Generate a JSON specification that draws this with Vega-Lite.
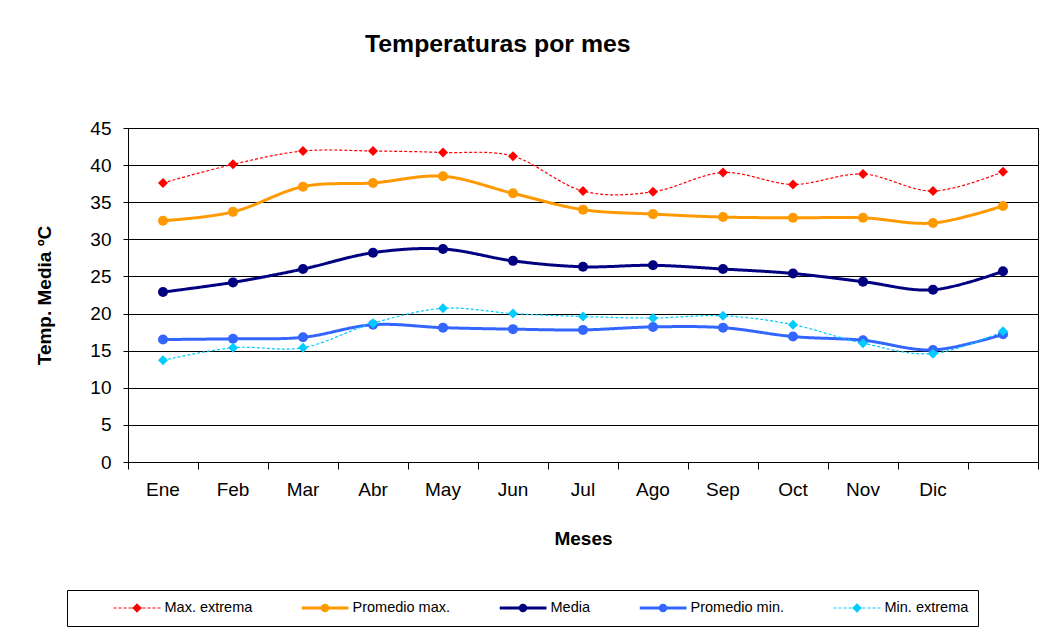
{
  "$schema": "https://vega.github.io/schema/vega-lite/v6.json",
  "width": 910,
  "height": 334,
  "autosize": {"type": "none"},
  "padding": {"left": 128, "top": 128, "right": 7, "bottom": 174},
  "background": "white",
  "title": {"text": "Temperaturas por mes", "anchor": "start", "frame": "group", "dx": 237, "offset": 62, "font": "Liberation Sans", "fontSize": 24.8, "fontWeight": "bold", "color": "#000"},
  "data": {"values": [
    {"mes": "Ene", "serie": "Max. extrema", "valor": 37.6},
    {"mes": "Feb", "serie": "Max. extrema", "valor": 40.1},
    {"mes": "Mar", "serie": "Max. extrema", "valor": 41.9},
    {"mes": "Abr", "serie": "Max. extrema", "valor": 41.9},
    {"mes": "May", "serie": "Max. extrema", "valor": 41.7},
    {"mes": "Jun", "serie": "Max. extrema", "valor": 41.2},
    {"mes": "Jul", "serie": "Max. extrema", "valor": 36.5},
    {"mes": "Ago", "serie": "Max. extrema", "valor": 36.4},
    {"mes": "Sep", "serie": "Max. extrema", "valor": 39.0},
    {"mes": "Oct", "serie": "Max. extrema", "valor": 37.4},
    {"mes": "Nov", "serie": "Max. extrema", "valor": 38.8},
    {"mes": "Dic", "serie": "Max. extrema", "valor": 36.5},
    {"mes": "Año", "serie": "Max. extrema", "valor": 39.1},
    {"mes": "Ene", "serie": "Promedio max.", "valor": 32.5},
    {"mes": "Feb", "serie": "Promedio max.", "valor": 33.7},
    {"mes": "Mar", "serie": "Promedio max.", "valor": 37.1},
    {"mes": "Abr", "serie": "Promedio max.", "valor": 37.6},
    {"mes": "May", "serie": "Promedio max.", "valor": 38.5},
    {"mes": "Jun", "serie": "Promedio max.", "valor": 36.2},
    {"mes": "Jul", "serie": "Promedio max.", "valor": 34.0},
    {"mes": "Ago", "serie": "Promedio max.", "valor": 33.4},
    {"mes": "Sep", "serie": "Promedio max.", "valor": 33.0},
    {"mes": "Oct", "serie": "Promedio max.", "valor": 32.9},
    {"mes": "Nov", "serie": "Promedio max.", "valor": 32.9},
    {"mes": "Dic", "serie": "Promedio max.", "valor": 32.2},
    {"mes": "Año", "serie": "Promedio max.", "valor": 34.5},
    {"mes": "Ene", "serie": "Media", "valor": 22.9},
    {"mes": "Feb", "serie": "Media", "valor": 24.2},
    {"mes": "Mar", "serie": "Media", "valor": 26.0},
    {"mes": "Abr", "serie": "Media", "valor": 28.2},
    {"mes": "May", "serie": "Media", "valor": 28.7},
    {"mes": "Jun", "serie": "Media", "valor": 27.1},
    {"mes": "Jul", "serie": "Media", "valor": 26.3},
    {"mes": "Ago", "serie": "Media", "valor": 26.5},
    {"mes": "Sep", "serie": "Media", "valor": 26.0},
    {"mes": "Oct", "serie": "Media", "valor": 25.4},
    {"mes": "Nov", "serie": "Media", "valor": 24.3},
    {"mes": "Dic", "serie": "Media", "valor": 23.2},
    {"mes": "Año", "serie": "Media", "valor": 25.7},
    {"mes": "Ene", "serie": "Promedio min.", "valor": 16.5},
    {"mes": "Feb", "serie": "Promedio min.", "valor": 16.6},
    {"mes": "Mar", "serie": "Promedio min.", "valor": 16.8},
    {"mes": "Abr", "serie": "Promedio min.", "valor": 18.5},
    {"mes": "May", "serie": "Promedio min.", "valor": 18.1},
    {"mes": "Jun", "serie": "Promedio min.", "valor": 17.9},
    {"mes": "Jul", "serie": "Promedio min.", "valor": 17.8},
    {"mes": "Ago", "serie": "Promedio min.", "valor": 18.2},
    {"mes": "Sep", "serie": "Promedio min.", "valor": 18.1},
    {"mes": "Oct", "serie": "Promedio min.", "valor": 16.9},
    {"mes": "Nov", "serie": "Promedio min.", "valor": 16.4},
    {"mes": "Dic", "serie": "Promedio min.", "valor": 15.1},
    {"mes": "Año", "serie": "Promedio min.", "valor": 17.2},
    {"mes": "Ene", "serie": "Min. extrema", "valor": 13.7},
    {"mes": "Feb", "serie": "Min. extrema", "valor": 15.4},
    {"mes": "Mar", "serie": "Min. extrema", "valor": 15.4},
    {"mes": "Abr", "serie": "Min. extrema", "valor": 18.7},
    {"mes": "May", "serie": "Min. extrema", "valor": 20.7},
    {"mes": "Jun", "serie": "Min. extrema", "valor": 20.0},
    {"mes": "Jul", "serie": "Min. extrema", "valor": 19.6},
    {"mes": "Ago", "serie": "Min. extrema", "valor": 19.4},
    {"mes": "Sep", "serie": "Min. extrema", "valor": 19.7},
    {"mes": "Oct", "serie": "Min. extrema", "valor": 18.5},
    {"mes": "Nov", "serie": "Min. extrema", "valor": 16.0},
    {"mes": "Dic", "serie": "Min. extrema", "valor": 14.6},
    {"mes": "Año", "serie": "Min. extrema", "valor": 17.6}
  ]},
  "encoding": {
    "x": {
      "field": "mes", "type": "ordinal",
      "sort": ["Ene", "Feb", "Mar", "Abr", "May", "Jun", "Jul", "Ago", "Sep", "Oct", "Nov", "Dic", "Año"],
      "scale": {"type": "band", "paddingInner": 0, "paddingOuter": 0},
      "bandPosition": 0.5,
      "axis": {
        "title": "Meses", "bandPosition": 1, "tickExtra": true, "labelAngle": 0,
        "labelExpr": "datum.value == 'Año' ? '' : datum.value",
        "grid": false, "domainColor": "#000", "tickColor": "#000", "tickSize": 7,
        "labelPadding": 11, "labelFont": "Liberation Sans", "labelFontSize": 19, "labelColor": "#000",
        "titleFont": "Liberation Sans", "titleFontSize": 19, "titleFontWeight": "bold", "titleColor": "#000", "titlePadding": 30
      }
    },
    "y": {
      "field": "valor", "type": "quantitative",
      "scale": {"domain": [0, 45], "nice": false},
      "axis": {
        "title": "Temp. Media ºC", "values": [0, 5, 10, 15, 20, 25, 30, 35, 40, 45],
        "grid": true, "gridColor": "#000", "gridOpacity": 1, "gridWidth": 1,
        "domainColor": "#000", "tickColor": "#000", "tickSize": 5,
        "labelPadding": 12, "labelFont": "Liberation Sans", "labelFontSize": 19, "labelColor": "#000",
        "titleFont": "Liberation Sans", "titleFontSize": 19, "titleFontWeight": "bold", "titleColor": "#000", "titlePadding": 35
      }
    },
    "color": {
      "field": "serie", "type": "nominal",
      "scale": {
        "domain": ["Max. extrema", "Promedio max.", "Media", "Promedio min.", "Min. extrema"],
        "range": ["#FF0000", "#FF9900", "#000080", "#3366FF", "#00CCFF"]
      },
      "legend": {
        "orient": "none", "legendX": -61, "legendY": 462,
        "direction": "horizontal", "columns": 5,
        "title": " ", "titleOrient": "left", "titlePadding": 37, "titleFontSize": 14,
        "padding": 9.5, "strokeColor": "#000", "fillColor": "#fff",
        "symbolSize": 2209, "symbolType": "M-1,0L1,0", "symbolStrokeWidth": 0,
        "clipHeight": 17,
        "labelFont": "Liberation Sans", "labelFontSize": 14.5, "labelColor": "#000", "labelOffset": 4,
        "columnPadding": 49,
        "encode": {
          "symbols": {
            "update": {
              "size": {"value": 2209},
              "strokeWidth": {"value": 0},
              "shape": {"signal": "datum.value == 'Max. extrema' || datum.value == 'Min. extrema' ? 'M-1,-0.025L-0.872,-0.025L-0.872,0.025L-1,0.025ZM-0.787,-0.025L-0.659,-0.025L-0.659,0.025L-0.787,0.025ZM-0.574,-0.025L-0.446,-0.025L-0.446,0.025L-0.574,0.025ZM-0.361,-0.025L-0.233,-0.025L-0.233,0.025L-0.361,0.025ZM0.233,-0.025L0.361,-0.025L0.361,0.025L0.233,0.025ZM0.446,-0.025L0.574,-0.025L0.574,0.025L0.446,0.025ZM0.659,-0.025L0.787,-0.025L0.787,0.025L0.659,0.025ZM0.872,-0.025L1,-0.025L1,0.025L0.872,0.025ZM-0.22,-0.025L-0.19,-0.025L-0.19,0.025L-0.22,0.025ZM0.19,-0.025L0.22,-0.025L0.22,0.025L0.19,0.025ZM0,-0.2L0.2,0L0,0.2L-0.2,0Z' : 'M-1,-0.064L-0.17,-0.064L-0.17,0.064L-1,0.064ZM0.17,-0.064L1,-0.064L1,0.064L0.17,0.064ZM-0.18,0A0.18,0.18,0,1,1,0.18,0A0.18,0.18,0,1,1,-0.18,0Z'"},
              "fill": {"scale": "color", "field": "value"},
              "opacity": {"value": 1}
            }
          }
        }
      }
    }
  },
  "layer": [
    {
      "mark": {"type": "line", "interpolate": "cardinal"},
      "encoding": {
        "strokeWidth": {"condition": {"test": "datum.serie == 'Max. extrema' || datum.serie == 'Min. extrema'", "value": 1.2}, "value": 3},
        "strokeDash": {"condition": {"test": "datum.serie == 'Max. extrema' || datum.serie == 'Min. extrema'", "value": [3, 2]}, "value": [1, 0]}
      }
    },
    {
      "mark": {"type": "point", "filled": true, "opacity": 1, "size": 100},
      "encoding": {
        "shape": {"condition": {"test": "datum.serie == 'Max. extrema' || datum.serie == 'Min. extrema'", "value": "diamond"}, "value": "circle"}
      }
    }
  ],
  "config": {
    "view": {"stroke": "#000", "strokeWidth": 1},
    "font": "Liberation Sans"
  }
}
